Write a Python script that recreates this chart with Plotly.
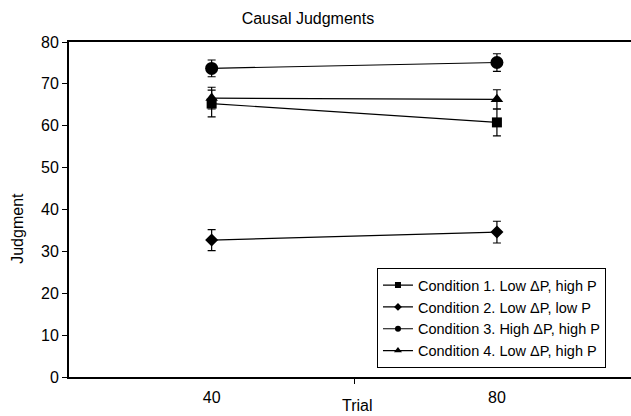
import plotly.graph_objects as go

trials = ["40", "80"]
x_pos = [1, 2]
series_names = [
    "Condition 1. Low ΔP, high P",
    "Condition 2. Low ΔP, low P",
    "Condition 3. High ΔP, high P",
    "Condition 4. Low ΔP, high P",
]
cond1 = [65.3, 60.8]
cond1_err = [3.2, 3.2]
cond2 = [32.7, 34.6]
cond2_err = [2.5, 2.6]
cond3 = [73.7, 75.1]
cond3_err = [2.0, 2.1]
cond4 = [66.6, 66.3]
cond4_err = [2.6, 2.3]
y_ticks = [0, 10, 20, 30, 40, 50, 60, 70, 80]

values = [cond1, cond2, cond3, cond4]
errors = [cond1_err, cond2_err, cond3_err, cond4_err]
symbols = ["square", "diamond", "circle", "triangle-up"]
sizes = [10, 10, 13, 11]
legend_sizes = [6, 6, 6, 7]

fig = go.Figure()
for i, (name, v, e, s, sz, lsz) in enumerate(zip(series_names, values, errors, symbols, sizes, legend_sizes)):
    fig.add_trace(go.Scatter(
        x=x_pos, y=v, name=name, mode="lines+markers", showlegend=False,
        legendgroup=f"g{i}",
        line=dict(color="black", width=1.2),
        marker=dict(symbol=s, size=sz, color="black"),
        error_y=dict(type="data", array=e, color="black", thickness=1.2, width=4),
    ))
    # legend entry (smaller marker, as in the reference legend)
    fig.add_trace(go.Scatter(
        x=[None], y=[None], name=name, mode="lines+markers", legendgroup=f"g{i}",
        line=dict(color="black", width=1.2),
        marker=dict(symbol=s, size=lsz, color="black"),
    ))

font = "Liberation Sans, Arial, sans-serif"
fig.update_layout(
    width=631, height=416,
    margin=dict(l=69, r=0, t=42, b=39),
    paper_bgcolor="white", plot_bgcolor="white",
    font=dict(family=font, size=16, color="black"),
    title=dict(text="Causal Judgments", x=0.488, xanchor="center", y=0.955, yanchor="middle",
               font=dict(size=16)),
    showlegend=True,
    legend=dict(x=0.548, y=0.325, xanchor="left", yanchor="top",
                bordercolor="black", borderwidth=1, bgcolor="white",
                font=dict(size=14.5), itemwidth=30, tracegroupgap=0),
    xaxis=dict(range=[0.5, 2.47], tickvals=x_pos, ticktext=trials, ticks="",
               showgrid=False, zeroline=False, showline=True, linecolor="black",
               linewidth=2, mirror=True, ticklabelstandoff=5,
               minor=dict(tickvals=[1.5], ticks="outside", ticklen=5, tickcolor="black", showgrid=False)),
    yaxis=dict(range=[0, 80], tickvals=y_ticks, ticks="outside", ticklen=5,
               tickcolor="black", showgrid=False, zeroline=False, showline=True,
               linecolor="black", linewidth=2),
    annotations=[
        dict(text="Trial", x=0.514, y=-0.084, xref="paper", yref="paper",
             showarrow=False, xanchor="center", yanchor="middle", font=dict(size=16)),
        dict(text="Judgment", x=-0.091, y=0.445, xref="paper", yref="paper",
             showarrow=False, textangle=-90, xanchor="center", yanchor="middle",
             font=dict(size=16)),
    ],
)
fig.write_html("out.html")
